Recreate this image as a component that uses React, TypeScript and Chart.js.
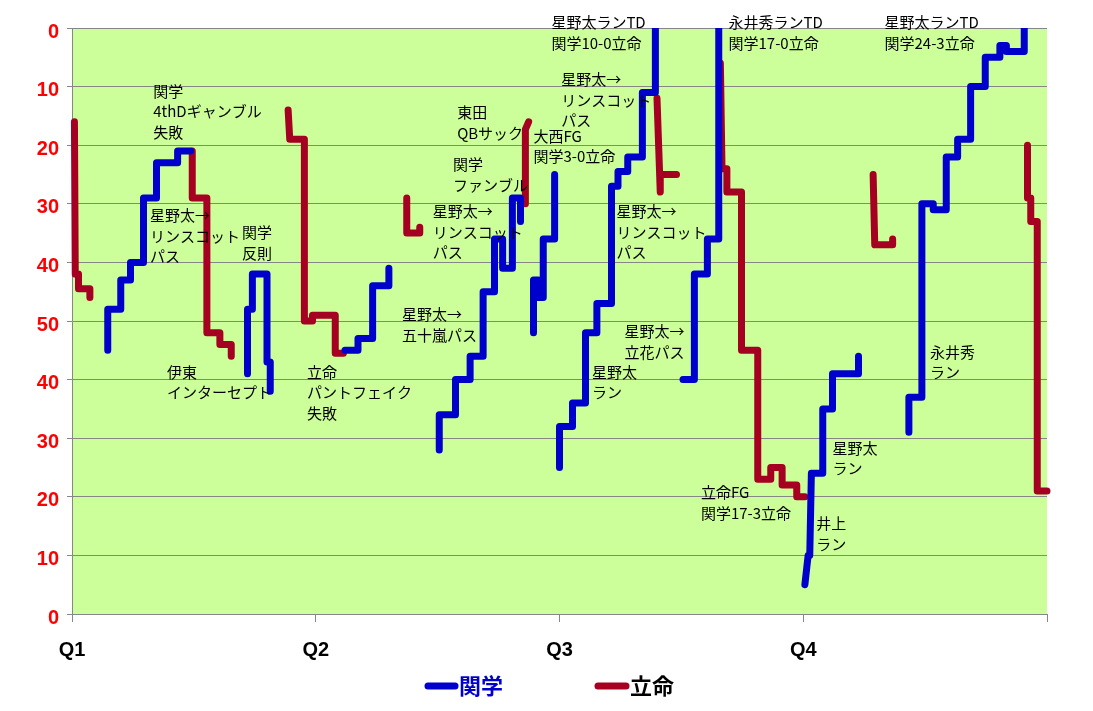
import React, { useEffect, useRef } from 'react';
import { Chart, registerables } from 'chart.js';

Chart.register(...registerables);

// ---- tick labels / names ----
const quarterLabels = ['Q1', 'Q2', 'Q3', 'Q4', ''];
const yardLabels = ['0', '10', '20', '30', '40', '50', '40', '30', '20', '10', '0'];
const teamNames = ['関学', '立命'];

// ---- 関学 drives: [game minute, yards from top goal line] ----
const kg1 = [[2.2, 55], [2.2, 48], [3.0, 48], [3.0, 43], [3.6, 43], [3.6, 40], [4.4, 40], [4.4, 29], [5.2, 29], [5.2, 23], [6.5, 23], [6.5, 21], [7.3, 21]];
const kg2 = [[10.8, 59], [10.8, 48], [11.1, 48], [11.1, 42], [12.0, 42], [12.0, 57], [12.2, 57], [12.2, 62]];
const kg3 = [[16.8, 55], [17.6, 55], [17.6, 53], [18.5, 53], [18.5, 44], [19.5, 44], [19.5, 41]];
const kg4 = [[22.6, 72], [22.6, 66], [23.6, 66], [23.6, 60], [24.5, 60], [24.5, 56], [25.3, 56], [25.3, 45], [26.0, 45], [26.0, 36], [26.5, 36], [26.5, 41], [27.1, 41], [27.1, 29], [27.6, 29], [27.6, 33]];
const kg5 = [[28.4, 52], [28.4, 43], [28.7, 43], [28.7, 46], [29.0, 46], [29.0, 36], [29.7, 36], [29.7, 25]];
const kg6 = [[30.0, 75], [30.0, 68], [30.8, 68], [30.8, 64], [31.6, 64], [31.6, 52], [32.3, 52], [32.3, 47], [33.2, 47], [33.2, 27], [33.6, 27], [33.6, 24.5], [34.2, 24.5], [34.2, 22], [35.1, 22], [35.1, 11], [35.9, 11], [35.9, 0]];
const kg7 = [[37.6, 60], [38.3, 60], [38.3, 42], [39.1, 42], [39.1, 36], [39.8, 36], [39.8, 0]];
const kg8 = [[45.1, 95], [45.3, 90], [45.4, 90], [45.5, 76], [46.2, 76], [46.2, 65], [46.8, 65], [46.8, 59], [48.4, 59], [48.4, 56]];
const kg9 = [[51.5, 69], [51.5, 63], [52.3, 63], [52.3, 30], [53.0, 30], [53.0, 31], [53.8, 31], [53.8, 22], [54.5, 22], [54.5, 19], [55.3, 19], [55.3, 10], [56.2, 10], [56.2, 5], [57.1, 5], [57.1, 3], [57.5, 3], [57.5, 4], [58.6, 4], [58.6, 0]];

// ---- 立命 drives ----
const rt1 = [[0.15, 16], [0.2, 42], [0.4, 42], [0.4, 44.5], [1.1, 44.5], [1.1, 46]];
const rt2 = [[7.4, 21], [7.4, 29], [8.3, 29], [8.3, 52], [9.1, 52], [9.1, 54], [9.8, 54], [9.8, 56]];
const rt3 = [[13.3, 14], [13.4, 19], [14.3, 19], [14.3, 50], [14.8, 50], [14.8, 49], [16.2, 49], [16.2, 55.5], [16.7, 55.5]];
const rt4 = [[20.6, 29], [20.6, 35], [21.4, 35], [21.4, 34]];
const rt5 = [[28.1, 16], [27.9, 17.3], [27.9, 30]];
const rt6 = [[36.0, 12], [36.2, 28], [36.2, 25], [37.2, 25]];
const rt7 = [[39.9, 6], [40.0, 24], [40.3, 24], [40.3, 28], [41.2, 28], [41.2, 55], [42.2, 55], [42.2, 77], [43.0, 77], [43.0, 75], [43.7, 75], [43.7, 78], [44.6, 78], [44.6, 80], [45.1, 80]];
const rt8 = [[49.3, 25], [49.4, 37], [50.5, 37], [50.5, 36]];
const rt9 = [[58.8, 20], [58.8, 29], [59.0, 29], [59.0, 33], [59.4, 33], [59.4, 79], [60, 79]];

const kgDrives = [kg1, kg2, kg3, kg4, kg5, kg6, kg7, kg8, kg9];
const rtDrives = [rt1, rt2, rt3, rt4, rt5, rt6, rt7, rt8, rt9];

// ---- play annotations: anchor [game minute, yard] of first text line ----
const notes: { at: number[]; lines: string[] }[] = [
  { at: [5.0, 10.8], lines: ['関学', '4thDギャンブル', '失敗'] },
  { at: [4.8, 32.0], lines: ['星野太→', 'リンスコット', 'パス'] },
  { at: [10.46, 34.9], lines: ['関学', '反則'] },
  { at: [5.85, 58.7], lines: ['伊東', 'インターセプト'] },
  { at: [14.46, 58.7], lines: ['立命', 'パントフェイク', '失敗'] },
  { at: [20.3, 48.9], lines: ['星野太→', '五十嵐パス'] },
  { at: [22.2, 31.3], lines: ['星野太→', 'リンスコット', 'パス'] },
  { at: [23.45, 23.3], lines: ['関学', 'ファンブル'] },
  { at: [23.7, 14.4], lines: ['東田', 'QBサック'] },
  { at: [28.4, 18.4], lines: ['大西FG', '関学3-0立命'] },
  { at: [29.5, -0.9], lines: ['星野太ランTD', '関学10-0立命'] },
  { at: [30.1, 8.8], lines: ['星野太→', 'リンスコット', 'パス'] },
  { at: [33.5, 31.3], lines: ['星野太→', 'リンスコット', 'パス'] },
  { at: [40.4, -0.9], lines: ['永井秀ランTD', '関学17-0立命'] },
  { at: [34.0, 51.8], lines: ['星野太→', '立花パス'] },
  { at: [32.0, 58.7], lines: ['星野太', 'ラン'] },
  { at: [38.7, 79.3], lines: ['立命FG', '関学17-3立命'] },
  { at: [45.8, 84.6], lines: ['井上', 'ラン'] },
  { at: [46.8, 71.7], lines: ['星野太', 'ラン'] },
  { at: [52.8, 55.3], lines: ['永井秀', 'ラン'] },
  { at: [50.0, -0.9], lines: ['星野太ランTD', '関学24-3立命'] },
];

const KG_COLOR = '#0000CC';
const RT_COLOR = '#A50021';
const GRID = '#868686';

function toPoints(drives: number[][][]) {
  const out: { x: number; y: number | null }[] = [];
  drives.forEach((d, i) => {
    if (i > 0) out.push({ x: d[0][0], y: null });
    d.forEach(([x, y]) => out.push({ x, y }));
  });
  return out;
}

const bgPlugin = {
  id: 'bg',
  beforeDraw(chart: any) {
    const { ctx, chartArea: a } = chart;
    ctx.save();
    ctx.fillStyle = '#ffffff';
    ctx.fillRect(0, 0, chart.width, chart.height);
    ctx.fillStyle = '#CCFF99';
    ctx.fillRect(a.left, a.top, a.right - a.left, a.bottom - a.top);
    ctx.restore();
  },
};

const notesPlugin = {
  id: 'notes',
  afterDatasetsDraw(chart: any) {
    const { ctx } = chart;
    const xs = chart.scales.x;
    const ys = chart.scales.y;
    ctx.save();
    ctx.fillStyle = '#000';
    ctx.font = '15px "Noto Sans CJK JP"';
    ctx.textAlign = 'left';
    ctx.textBaseline = 'middle';
    notes.forEach((n) => {
      const px = xs.getPixelForValue(n.at[0]);
      const py = ys.getPixelForValue(n.at[1]);
      n.lines.forEach((t, i) => ctx.fillText(t, px, py + i * 20.5));
    });
    ctx.restore();
  },
};

const legendPlugin = {
  id: 'customLegend',
  afterDraw(chart: any) {
    const { ctx } = chart;
    const y = 686;
    const items = [
      { x0: 428, x1: 455, color: KG_COLOR, text: teamNames[0], textColor: KG_COLOR },
      { x0: 598, x1: 626, color: RT_COLOR, text: teamNames[1], textColor: '#000' },
    ];
    ctx.save();
    items.forEach((it) => {
      ctx.strokeStyle = it.color;
      ctx.lineWidth = 7;
      ctx.lineCap = 'round';
      ctx.beginPath();
      ctx.moveTo(it.x0, y);
      ctx.lineTo(it.x1, y);
      ctx.stroke();
      ctx.fillStyle = it.textColor;
      ctx.font = 'bold 22px "Noto Sans CJK JP"';
      ctx.textAlign = 'left';
      ctx.textBaseline = 'middle';
      ctx.fillText(it.text, it.x1 + 4, y);
    });
    ctx.restore();
  },
};

export default function App() {
  const ref = useRef<HTMLCanvasElement>(null);
  useEffect(() => {
    document.body.style.margin = '0';
    const lineStyle = {
      borderWidth: 7,
      pointRadius: 0,
      pointHoverRadius: 0,
      tension: 0,
      spanGaps: false,
      fill: false,
      borderCapStyle: 'round',
      borderJoinStyle: 'round',
      clip: { left: 5, top: 0, right: 5, bottom: 5 },
    };
    const chart = new Chart(ref.current as HTMLCanvasElement, {
      type: 'line',
      data: {
        datasets: [
          { label: teamNames[0], data: toPoints(kgDrives), borderColor: KG_COLOR, backgroundColor: KG_COLOR, ...lineStyle } as any,
          { label: teamNames[1], data: toPoints(rtDrives), borderColor: RT_COLOR, backgroundColor: RT_COLOR, ...lineStyle } as any,
        ],
      },
      options: {
        animation: false,
        responsive: false,
        devicePixelRatio: 1,
        layout: { padding: { top: 28, right: 46, bottom: 0, left: 0 } },
        plugins: { legend: { display: false }, tooltip: { enabled: false } },
        scales: {
          x: {
            type: 'linear',
            min: 0,
            max: 60,
            ticks: {
              stepSize: 15,
              autoSkip: false,
              maxRotation: 0,
              padding: 16,
              color: '#000',
              font: { family: '"Liberation Sans", Arial', size: 20, weight: 'bold' },
              callback: (v: any) => quarterLabels[Math.round(Number(v) / 15)] ?? '',
            },
            grid: { drawOnChartArea: false, drawTicks: true, tickLength: 8, color: GRID },
            border: { display: true, color: GRID },
            afterFit: (s: any) => { s.height = 97; },
          },
          y: {
            type: 'linear',
            reverse: true,
            min: 0,
            max: 100,
            ticks: {
              stepSize: 10,
              padding: 8,
              labelOffset: 4,
              color: '#FF0000',
              font: { family: '"Liberation Sans", Arial', size: 20, weight: 'bold' },
              callback: (v: any) => yardLabels[Math.round(Number(v) / 10)] ?? '',
            },
            grid: { color: GRID, tickLength: 5 },
            border: { display: true, color: GRID },
            afterFit: (s: any) => { s.width = 72; },
          },
        },
      },
      plugins: [bgPlugin, notesPlugin, legendPlugin],
    } as any);
    return () => chart.destroy();
  }, []);
  return (
    <div style={{ width: 1093, height: 711 }}>
      <canvas ref={ref} width={1093} height={711} style={{ display: 'block' }} />
    </div>
  );
}
